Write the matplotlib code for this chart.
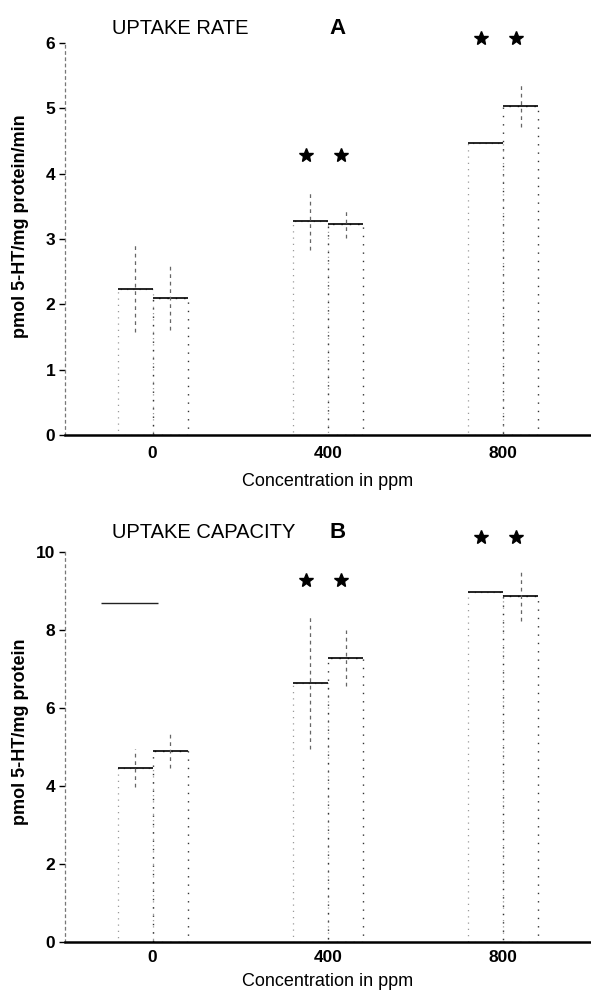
import matplotlib as mpl

mpl.use('Agg')

from matplotlib import pyplot as plt

plt.rcParams['font.family'] = ['Liberation Sans', 'DejaVu Sans']

# concentrations (ppm) and the two bars drawn at each one
conc = [0, 400, 800]
conc_labels = ['0', '400', '800']
bar_width = 80

# panel A: uptake rate, pmol 5-HT/mg protein/min
rate_first = [2.24, 3.28, 4.47]
rate_first_err = [0.67, 0.45, 0.0]
rate_second = [2.10, 3.23, 5.04]
rate_second_err = [0.50, 0.22, 0.32]
rate_star = [None, 4.28, 6.07]

# panel B: uptake capacity, pmol 5-HT/mg protein
cap_first = [4.46, 6.65, 8.97]
cap_first_err = [0.48, 1.70, 0.0]
cap_second = [4.91, 7.29, 8.87]
cap_second_err = [0.45, 0.72, 0.65]
cap_star = [None, 9.27, 10.38]
# stray line printed in the original, panel B
cap_stray_level = 8.68
cap_stray_span = (-118, 13)

W, H = 591, 997
fig = plt.figure(figsize=(W / 100, H / 100), dpi=100)


def panel(ax, first, first_err, second, second_err, stars, ymax, ystep,
          ylabel, title, letter, title_y, ylab_y, xlab_y, tick_pad):
    left1 = [c - bar_width for c in conc]
    left2 = conc
    ax.bar(left1, first, width=bar_width, align='edge', fill=False,
           edgecolor='#9a9a9a', linestyle=(0, (1, 4)), linewidth=0.9)
    ax.bar(left2, second, width=bar_width, align='edge', fill=False,
           edgecolor='#333333', linestyle=(0, (1, 5)), linewidth=1.0)
    ax.hlines(first, left1, [l + bar_width for l in left1], color='black', lw=1.2)
    ax.hlines(second, left2, [l + bar_width for l in left2], color='black', lw=1.2)
    mid1 = [l + bar_width / 2 for l in left1]
    mid2 = [l + bar_width / 2 for l in left2]
    for m, v, e in zip(mid1 + mid2, first + second, first_err + second_err):
        if e > 0:
            ax.vlines(m, v - e, v + e, color='#666666', lw=0.9,
                      linestyles=(0, (3, 3)))
    for c, s in zip(conc, stars):
        if s is not None:
            ax.plot([c - bar_width / 2 - 10, c + bar_width / 2 - 10], [s, s],
                    ls='none', marker='*', ms=10, color='black', clip_on=False)

    ax.set_xlim(-200, 1000)
    ax.set_ylim(0, ymax)
    ax.set_yticks(range(0, ymax + 1, ystep))
    ax.set_xticks(conc)
    ax.set_xticklabels(conc_labels)
    ax.tick_params(axis='x', length=0, pad=tick_pad, labelsize=12.5)
    ax.tick_params(axis='y', length=4, width=1, direction='out', pad=3,
                   labelsize=12.5)
    for lab in ax.get_xticklabels() + ax.get_yticklabels():
        lab.set_fontweight('bold')
    for side in ['top', 'right']:
        ax.spines[side].set_visible(False)
    ax.spines['left'].set_linestyle((0, (2, 3)))
    ax.spines['left'].set_color('#777777')
    ax.spines['left'].set_linewidth(0.9)
    ax.spines['bottom'].set_linewidth(1.8)
    ax.spines['bottom'].set_bounds(-200, 1000)

    ax.set_ylabel(ylabel, fontsize=13, fontweight='bold')
    ax.yaxis.set_label_coords(-0.068, ylab_y)
    ax.set_xlabel('Concentration in ppm', fontsize=13)
    ax.xaxis.set_label_coords(0.5, xlab_y)

    fig.text(112 / W, 1 - title_y / H, title, fontsize=14.5, va='center', ha='left')
    fig.text(338 / W, 1 - title_y / H, letter, fontsize=16, fontweight='bold',
             va='center', ha='center')


axA = fig.add_axes([65 / W, 1 - 435 / H, (W - 65) / W, (435 - 43) / H])
panel(axA, rate_first, rate_first_err, rate_second, rate_second_err, rate_star,
      6, 1, 'pmol 5-HT/mg protein/min', 'UPTAKE RATE', 'A', 29, 0.533, -0.097, 8)

axB = fig.add_axes([65 / W, 1 - 942 / H, (W - 65) / W, (942 - 552) / H])
panel(axB, cap_first, cap_first_err, cap_second, cap_second_err, cap_star,
      10, 2, 'pmol 5-HT/mg protein', 'UPTAKE CAPACITY', 'B', 533, 0.538, -0.079, 6)
axB.hlines(cap_stray_level, cap_stray_span[0], cap_stray_span[1], color='#222222', lw=1.0)

fig.savefig('out.png', dpi=100)
plt.close()
